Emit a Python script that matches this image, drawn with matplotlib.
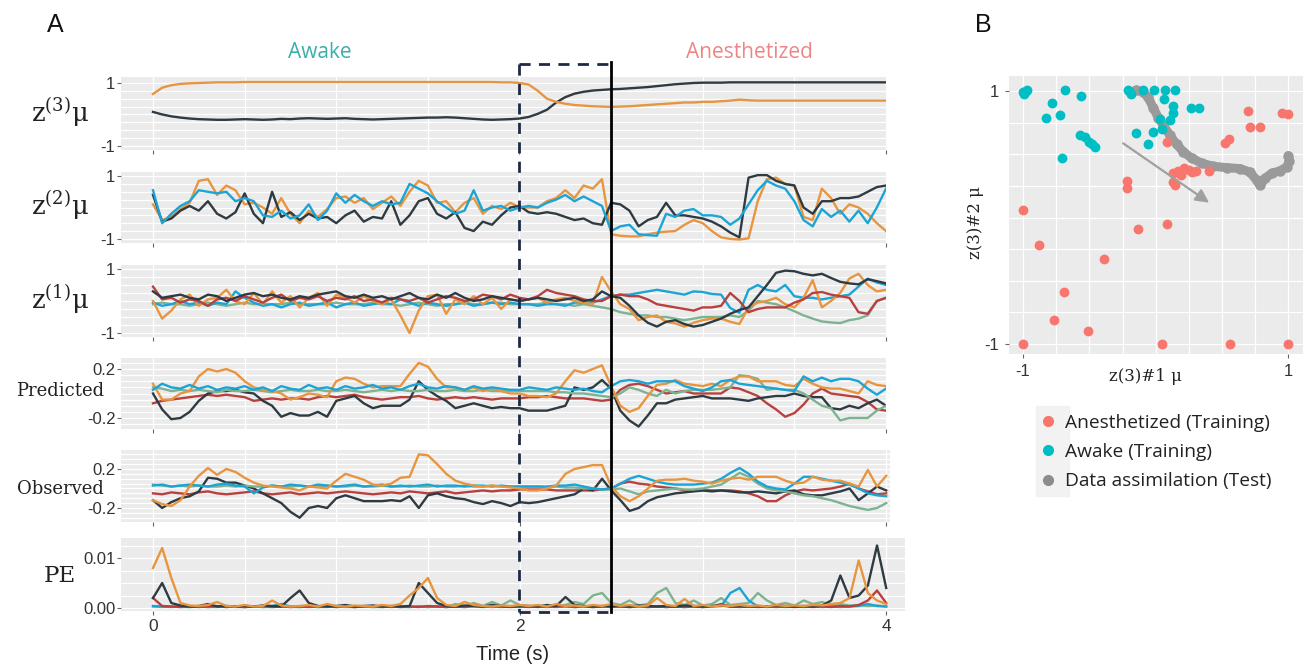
import numpy as np
import matplotlib.pyplot as plt
import matplotlib.transforms as mtransforms
from matplotlib.lines import Line2D
from matplotlib.patches import Rectangle

plt.rcParams['font.family'] = ['Liberation Sans', 'DejaVu Sans']
plt.rcParams['mathtext.fontset'] = 'dejavuserif'

# ---------------- data: panel A (time series, sampled every 0.05 s) ----------------
time_s = np.linspace(0, 4, 81)
window_start, window_end = 2.0, 2.5   # data assimilation window

z3_orange = [0.65, 0.85, 0.93, 0.97, 0.99, 1.0, 1.01, 1.02, 1.02, 1.02,
             1.03, 1.03, 1.03, 1.03, 1.03, 1.03, 1.03, 1.03, 1.03, 1.03,
             1.03, 1.03, 1.03, 1.03, 1.03, 1.03, 1.03, 1.03, 1.03, 1.03,
             1.03, 1.03, 1.03, 1.03, 1.03, 1.03, 1.03, 1.03, 1.02, 1.02, 1.0] + \
            [0.95, 0.75, 0.5, 0.4, 0.34, 0.3, 0.28, 0.26, 0.25,
             0.24, 0.25, 0.26, 0.28, 0.3, 0.32, 0.34, 0.36, 0.38, 0.38,
             0.4, 0.4, 0.42, 0.44, 0.47, 0.45, 0.44, 0.44, 0.44, 0.44,
             0.44, 0.44, 0.44, 0.44, 0.44, 0.44, 0.44, 0.44, 0.44, 0.44, 0.44]
z3_dark = [0.08, 0.0, -0.06, -0.1, -0.13, -0.15, -0.16, -0.17, -0.17, -0.16,
           -0.15, -0.16, -0.17, -0.16, -0.14, -0.15, -0.13, -0.12, -0.13, -0.14,
           -0.13, -0.12, -0.14, -0.15, -0.16, -0.15, -0.14, -0.13, -0.12, -0.11,
           -0.1, -0.1, -0.09, -0.1, -0.12, -0.14, -0.16, -0.17, -0.16, -0.15, -0.13] + \
          [-0.08, 0.02, 0.15, 0.38, 0.55, 0.66, 0.72, 0.76, 0.78,
           0.8, 0.81, 0.83, 0.85, 0.87, 0.9, 0.93, 0.96, 0.98, 1.0,
           1.01, 1.01, 1.01, 1.02, 1.02, 1.02, 1.02, 1.02, 1.02, 1.02,
           1.02, 1.02, 1.02, 1.02, 1.02, 1.02, 1.02, 1.02, 1.02, 1.02, 1.02]

z2_orange = [0.1, -0.4, -0.3, -0.05, 0.15, 0.85, 0.9, 0.4, 0.7, 0.55,
             0.1, 0.15, 0.0, -0.2, 0.3, -0.2, -0.5, -0.1, -0.3, -0.05,
             0.3, 0.35, 0.15, 0.3, -0.05, 0.15, 0.35, 0.05, 0.5, 0.85,
             0.7, 0.15, 0.2, -0.15, 0.15, 0.3, -0.2, 0.05, -0.05, 0.15, 0.0] + \
            [0.0, 0.0, 0.2, 0.3, 0.55, 0.3, 0.7, 0.6, 0.9,
             -0.85, -0.9, -0.92, -0.92, -0.85, -0.8, -0.77, -0.75, -0.55, -0.4,
             -0.5, -0.75, -0.95, -1.0, -1.02, -0.98, 0.2, 0.9, 0.95, 0.75,
             0.7, -0.3, -0.4, 0.6, 0.3, -0.2, 0.1, 0.0, -0.2, -0.5, -0.75]
z2_dark = [0.4, -0.45, -0.35, -0.1, 0.05, -0.1, 0.2, -0.2, -0.35, -0.15,
           0.45, -0.2, -0.5, 0.5, -0.3, -0.15, -0.4, -0.2, -0.35, -0.3,
           -0.5, -0.25, -0.1, -0.45, -0.3, -0.35, 0.2, -0.55, -0.25, 0.2,
           0.3, -0.2, -0.35, -0.15, -0.65, -0.75, -0.45, -0.55, -0.25, 0.0, 0.05] + \
          [-0.15, -0.2, -0.15, -0.2, -0.3, -0.4, -0.35, -0.5, -0.55,
           0.15, 0.1, -0.1, -0.6, -0.4, -0.3, 0.15, -0.25, -0.25, -0.3,
           -0.35, -0.45, -0.6, -0.8, -0.95, 0.95, 1.03, 1.03, 0.85, 0.75,
           0.7, 0.0, -0.2, 0.2, 0.2, 0.3, 0.3, 0.35, 0.5, 0.65, 0.7]
z2_blue = [0.55, -0.5, -0.2, 0.05, 0.2, 0.55, 0.5, 0.45, 0.5, 0.2,
           0.3, 0.2, -0.25, -0.3, -0.1, -0.35, -0.25, 0.1, -0.4, -0.1,
           0.45, 0.15, 0.4, 0.2, 0.05, 0.2, 0.1, 0.15, 0.75, 0.6,
           0.45, 0.2, 0.0, -0.2, -0.1, 0.55, -0.1, 0.0, 0.05, -0.1, 0.0] + \
          [0.05, 0.0, 0.15, 0.25, 0.4, 0.2, 0.35, 0.2, 0.05,
           -0.75, -0.6, -0.55, -0.85, -0.88, -0.9, -0.2, -0.3, -0.1, -0.05,
           -0.25, -0.25, -0.3, -0.55, -0.35, 0.1, 0.55, 0.85, 0.7, 0.6,
           0.2, -0.4, -0.6, -0.05, -0.3, -0.1, -0.45, -0.1, -0.5, 0.0, 0.6]

z1_dark = [0.3, 0.1, 0.15, 0.2, 0.1, 0.05, 0.2, 0.15, 0.0, 0.1,
           0.2, 0.25, 0.15, 0.2, 0.1, 0.05, 0.15, 0.1, 0.2, 0.25,
           0.3, 0.15, 0.1, 0.2, 0.1, 0.15, 0.05, 0.15, 0.25, 0.1,
           0.05, 0.2, 0.1, 0.25, 0.1, 0.0, 0.05, 0.15, 0.1, 0.05, 0.0] + \
          [0.05, 0.1, 0.05, 0.0, 0.05, 0.1, 0.0, 0.05, 0.3,
           0.15, 0.1, -0.15, -0.45, -0.68, -0.8, -0.65, -0.6, -0.72, -0.8,
           -0.75, -0.65, -0.55, -0.4, -0.28, -0.2, 0.15, 0.5, 0.88, 0.95,
           0.93, 0.85, 0.8, 0.85, 0.72, 0.6, 0.55, 0.52, 0.68, 0.62, 0.55]
z1_red = [0.45, 0.05, 0.1, -0.05, 0.05, 0.0, -0.15, 0.05, 0.1, 0.0,
          0.15, 0.05, -0.05, 0.1, 0.2, 0.0, 0.1, 0.05, 0.15, 0.0,
          0.1, 0.05, 0.15, 0.0, 0.05, -0.05, 0.1, 0.05, 0.0, 0.1,
          -0.05, 0.05, 0.15, 0.1, 0.0, 0.05, 0.2, 0.15, 0.05, 0.2, 0.1] + \
         [0.05, 0.15, 0.35, 0.25, 0.2, 0.15, 0.05, 0.0, 0.0,
          0.15, 0.2, 0.15, 0.15, 0.05, -0.1, -0.15, -0.2, -0.25, -0.3,
          -0.2, -0.2, -0.15, 0.25, 0.0, -0.35, -0.25, -0.2, -0.2, -0.2,
          -0.05, 0.05, 0.25, 0.28, 0.2, 0.15, 0.1, -0.35, -0.4, 0.0, 0.1]
z1_orange = [0.0, -0.55, -0.3, 0.05, 0.2, -0.15, 0.05, 0.1, 0.35, 0.0,
             -0.1, 0.25, -0.1, 0.3, -0.05, 0.15, -0.2, 0.1, 0.25, -0.15,
             0.2, 0.1, -0.05, 0.15, 0.0, -0.1, 0.05, -0.45, -1.0, -0.3,
             0.15, 0.2, -0.4, 0.05, -0.1, 0.15, -0.1, 0.1, -0.25, 0.05, 0.0] + \
            [0.05, 0.1, -0.05, 0.05, 0.1, 0.0, -0.05, -0.1, 0.75,
             0.3, -0.1, -0.25, -0.6, -0.5, -0.45, -0.65, -0.7, -0.8, -0.68,
             -0.6, -0.55, -0.55, -0.65, -0.72, -0.2, -0.05, 0.0, 0.1, -0.1,
             -0.2, 0.1, 0.65, -0.2, 0.0, 0.25, 0.7, 0.85, 0.5, 0.3, 0.35]
z1_blue = [-0.05, -0.15, -0.1, 0.0, -0.1, -0.05, -0.15, -0.05, -0.1, 0.3,
           0.1, -0.05, -0.15, -0.1, -0.2, -0.1, -0.05, -0.15, -0.1, -0.05,
           -0.2, -0.1, -0.05, -0.15, -0.1, -0.05, -0.1, 0.05, -0.05, -0.15,
           -0.05, -0.1, -0.15, -0.1, -0.05, -0.15, -0.1, -0.05, -0.1, -0.05, -0.1] + \
          [-0.1, -0.15, -0.1, -0.1, -0.15, -0.05, -0.05, -0.05, 0.05,
           0.15, 0.2, 0.2, 0.25, 0.3, 0.35, 0.3, 0.25, 0.2, 0.3,
           0.28, 0.22, 0.2, -0.22, -0.37, 0.35, 0.5, 0.35, 0.3, 0.5,
           0.15, 0.1, 0.1, 0.05, 0.1, 0.15, 0.2, 0.45, 0.7, 0.58, 0.5]
z1_green = [-0.1, -0.05, -0.1, -0.1, -0.15, -0.1, -0.05, -0.1, -0.15, -0.1,
            -0.05, -0.1, -0.1, -0.1, -0.1, -0.05, -0.1, -0.1, -0.1, -0.1,
            -0.05, -0.1, -0.1, -0.1, -0.05, -0.1, -0.1, -0.15, -0.1, -0.05,
            -0.1, -0.15, -0.1, -0.1, -0.05, -0.1, -0.1, -0.05, -0.05, -0.1, -0.1] + \
           [-0.1, -0.1, -0.05, -0.1, -0.1, -0.15, -0.1, -0.15, -0.2,
            -0.25, -0.35, -0.4, -0.45, -0.45, -0.5, -0.5, -0.55, -0.6, -0.55,
            -0.5, -0.5, -0.5, -0.45, -0.5, -0.3, 0.0, -0.05, -0.1, -0.2,
            -0.32, -0.45, -0.55, -0.64, -0.67, -0.69, -0.6, -0.55, -0.45, 0.0, 0.1]

pred_orange = [0.08, -0.05, -0.05, 0.0, 0.02, 0.14, 0.2, 0.18, 0.2, 0.17,
               0.1, 0.05, 0.03, 0.02, 0.0, -0.05, -0.03, 0.0, -0.01, -0.03,
               0.1, 0.13, 0.12, 0.08, 0.05, 0.06, 0.06, 0.06, 0.16, 0.25,
               0.22, 0.12, 0.05, 0.05, 0.03, 0.05, 0.02, 0.04, 0.02, 0.0, 0.0] + \
              [-0.02, -0.02, -0.03, 0.0, 0.1, 0.19, 0.17, 0.2, 0.23,
               0.06, -0.1, -0.15, -0.12, -0.02, 0.07, 0.08, 0.11, 0.08, 0.07,
               0.06, 0.08, 0.06, 0.11, 0.14, 0.14, 0.1, 0.1, 0.1, 0.07,
               0.06, 0.12, 0.08, 0.05, 0.04, 0.04, 0.02, 0.0, 0.1, 0.07, 0.06]
pred_dark = [0.0, -0.13, -0.21, -0.2, -0.15, -0.06, 0.0, 0.02, 0.02, 0.03,
             0.01, 0.0, -0.06, -0.1, -0.19, -0.16, -0.18, -0.18, -0.15, -0.19,
             -0.06, -0.04, -0.02, -0.08, -0.12, -0.1, -0.1, -0.1, -0.05, 0.1,
             0.03, -0.02, -0.06, -0.12, -0.1, -0.08, -0.1, -0.12, -0.11, -0.12, -0.12] + \
            [-0.14, -0.14, -0.14, -0.12, -0.1, 0.05, 0.03, 0.05, 0.11,
             0.04, -0.14, -0.22, -0.27, -0.18, -0.08, -0.08, -0.05, -0.04, -0.03,
             -0.02, -0.04, -0.04, -0.04, -0.05, -0.06, -0.04, -0.03, -0.02, -0.02,
             0.0, -0.02, -0.03, -0.03, -0.12, -0.13, -0.1, -0.12, -0.08, -0.05, -0.1]
pred_blue = [0.03, 0.08, 0.05, 0.04, 0.07, 0.04, 0.06, 0.03, 0.05, 0.04,
             0.06, 0.03, 0.05, 0.02, 0.06, 0.04, 0.03, 0.07, 0.04, 0.05,
             0.03, 0.06, 0.04, 0.05, 0.07, 0.04, 0.05, 0.03, 0.06, 0.08,
             0.05, 0.04, 0.06, 0.05, 0.03, 0.06, 0.04, 0.05, 0.04, 0.03, 0.03] + \
            [0.05, 0.04, 0.03, 0.05, 0.04, 0.03, 0.04, 0.02, 0.01,
             0.06, 0.1, 0.11, 0.1, 0.08, 0.1, 0.1, 0.1, 0.06, 0.04,
             0.02, 0.05, 0.1, 0.11, 0.08, 0.07, 0.06, 0.05, 0.04, 0.03,
             0.02, 0.14, 0.1, 0.13, 0.1, 0.12, 0.12, 0.1, 0.04, -0.01, 0.04]
pred_green = [0.05, 0.04, 0.02, 0.03, 0.02, 0.03, 0.02, 0.01, 0.03, 0.02,
              0.02, 0.03, 0.02, 0.01, 0.02, 0.03, 0.02, 0.02, 0.03, 0.02,
              0.02, 0.03, 0.02, 0.01, 0.02, 0.03, 0.02, 0.03, 0.02, 0.02,
              0.03, 0.02, 0.02, 0.03, 0.02, 0.02, 0.03, 0.02, 0.02, 0.02, 0.02] + \
             [0.02, 0.02, 0.02, 0.01, 0.01, 0.0, 0.0, -0.01, -0.02,
              -0.03, 0.0, 0.05, 0.03, 0.0, -0.02, 0.03, 0.0, 0.02, 0.03,
              0.03, 0.03, 0.04, 0.05, 0.15, 0.14, 0.12, 0.03, 0.04, 0.03,
              0.03, 0.0, -0.05, -0.1, -0.12, -0.22, -0.2, -0.2, -0.2, -0.14, -0.1]
pred_red = [-0.08, -0.06, -0.05, -0.04, -0.03, -0.02, -0.01, -0.02, -0.01, -0.02,
            -0.03, -0.06, -0.05, -0.04, -0.05, -0.04, -0.04, -0.05, -0.03, -0.02,
            -0.03, -0.02, -0.01, -0.03, -0.04, -0.05, -0.04, -0.03, -0.03, -0.02,
            -0.04, -0.05, -0.04, -0.03, -0.04, -0.03, -0.04, -0.05, -0.04, -0.04, -0.04] + \
           [-0.03, -0.03, -0.02, -0.03, -0.04, -0.04, -0.04, -0.05, -0.06,
            -0.05, 0.03, 0.07, 0.08, 0.06, 0.03, 0.0, 0.01, 0.02, 0.0,
            0.0, 0.0, 0.0, 0.05, 0.04, 0.01, -0.02, -0.08, -0.13, -0.19,
            -0.16, -0.09, 0.0, 0.04, 0.0, -0.01, -0.02, -0.03, -0.07, -0.13, -0.14]

obs_orange = [-0.12, -0.16, -0.18, -0.12, 0.02, 0.13, 0.21, 0.14, 0.2, 0.17,
              0.11, 0.06, 0.03, 0.02, 0.01, 0.0, -0.02, 0.02, 0.01, 0.0,
              0.08, 0.15, 0.12, 0.09, 0.04, 0.03, 0.05, 0.11, 0.12, 0.35,
              0.34, 0.25, 0.15, 0.08, 0.05, 0.03, 0.02, 0.03, 0.02, 0.01, 0.0] + \
             [-0.02, -0.02, 0.0, 0.03, 0.15, 0.2, 0.22, 0.24, 0.24,
              0.02, -0.08, -0.13, -0.08, 0.0, 0.08, 0.09, 0.09, 0.1, 0.08,
              0.07, 0.05, 0.08, 0.1, 0.11, 0.09, 0.12, 0.12, 0.12, 0.08,
              0.05, 0.06, 0.12, 0.09, 0.08, 0.08, 0.05, 0.02, 0.19, 0.02, 0.13]
obs_dark = [-0.12, -0.2, -0.14, -0.1, -0.08, -0.03, 0.11, 0.1, 0.06, 0.06,
            0.03, 0.0, -0.05, -0.1, -0.15, -0.24, -0.3, -0.2, -0.18, -0.2,
            -0.1, -0.07, -0.1, -0.13, -0.13, -0.13, -0.12, -0.13, -0.08, -0.2,
            -0.07, -0.05, -0.08, -0.1, -0.11, -0.14, -0.16, -0.13, -0.15, -0.18, -0.14] + \
           [-0.15, -0.14, -0.12, -0.1, -0.08, -0.06, 0.0, -0.02, 0.1,
            -0.02, -0.12, -0.23, -0.2, -0.13, -0.09, -0.07, -0.05, -0.04, -0.03,
            -0.02, -0.03, -0.02, -0.03, -0.04, -0.04, -0.03, -0.04, -0.05, -0.03,
            -0.02, -0.06, -0.07, -0.07, -0.05, -0.03, 0.0, -0.12, -0.05, 0.02, -0.02]
obs_blue = [0.03, 0.04, 0.02, 0.03, 0.04, 0.03, 0.02, 0.04, 0.05, 0.03,
            0.02, -0.05, 0.01, 0.03, 0.02, 0.04, 0.03, 0.02, 0.04, 0.03,
            0.02, 0.03, 0.04, 0.02, 0.03, 0.04, 0.02, 0.03, 0.02, 0.03,
            0.04, 0.02, 0.03, 0.03, 0.02, 0.03, 0.03, 0.02, 0.03, 0.02, 0.02] + \
           [0.02, 0.02, 0.02, 0.03, 0.03, 0.04, 0.02, 0.0, -0.01,
            0.0, 0.05, 0.1, 0.13, 0.1, 0.07, 0.05, 0.04, 0.04, 0.04,
            0.05, 0.06, 0.1, 0.16, 0.21, 0.15, 0.07, 0.02, 0.0, -0.01,
            0.05, 0.12, 0.12, 0.1, 0.08, 0.06, 0.04, 0.0, -0.05, -0.07, -0.08]
obs_green = [0.04, 0.03, 0.02, 0.03, 0.02, 0.03, 0.02, 0.02, 0.03, 0.02,
             0.03, 0.02, 0.02, 0.03, 0.02, 0.02, 0.03, 0.02, 0.02, 0.03,
             0.02, 0.02, 0.03, 0.02, 0.02, 0.03, 0.02, 0.02, 0.03, 0.02,
             0.02, 0.03, 0.02, 0.02, 0.03, 0.02, 0.02, 0.03, 0.02, 0.02, 0.02] + \
            [0.02, 0.02, 0.01, 0.02, 0.01, 0.01, 0.0, 0.0, -0.01,
             -0.01, 0.0, -0.03, -0.06, -0.03, -0.02, -0.01, 0.0, -0.01, -0.01,
             0.0, 0.02, 0.04, 0.1, 0.16, 0.12, 0.05, 0.0, -0.02, -0.03,
             -0.05, -0.07, -0.08, -0.1, -0.12, -0.15, -0.18, -0.2, -0.22, -0.2, -0.15]
obs_red = [-0.05, -0.06, -0.04, -0.05, -0.06, -0.04, -0.03, -0.05, -0.06, -0.05,
           -0.04, -0.03, -0.05, -0.06, -0.05, -0.04, -0.06, -0.05, -0.04, -0.05,
           -0.04, -0.03, -0.04, -0.05, -0.06, -0.05, -0.04, -0.05, -0.03, -0.04,
           -0.05, -0.04, -0.03, -0.05, -0.04, -0.03, -0.02, -0.03, -0.02, -0.02, -0.01] + \
          [-0.01, -0.01, -0.01, -0.02, -0.02, -0.02, -0.02, -0.02, -0.01,
           0.0, 0.05, 0.07, 0.05, 0.04, 0.02, 0.01, 0.0, -0.02, -0.02,
           -0.02, -0.02, -0.02, -0.02, -0.03, -0.05, -0.08, -0.13, -0.13, -0.07,
           -0.03, -0.01, -0.02, -0.01, 0.0, 0.02, 0.05, 0.0, -0.03, -0.06, -0.05]

pe_orange = [0.008, 0.012, 0.006, 0.001, 0.0005, 0.0004, 0.0006, 0.0012, 0.0004, 0.0003,
             0.0006, 0.0003, 0.0004, 0.0015, 0.0005, 0.0003, 0.0004, 0.0006, 0.0003, 0.0008,
             0.0004, 0.0003, 0.0005, 0.0004, 0.0003, 0.0006, 0.0004, 0.0008, 0.0025, 0.004,
             0.006, 0.002, 0.0006, 0.0004, 0.0012, 0.0006, 0.0004, 0.0003, 0.0005, 0.0004, 0.0006] + \
            [0.0004, 0.0006, 0.0003, 0.0008, 0.0004, 0.0005, 0.0003, 0.0006, 0.0004,
             0.0008, 0.0004, 0.0006, 0.0003, 0.0005, 0.002, 0.0006, 0.0004, 0.0018, 0.0004,
             0.0006, 0.0003, 0.0005, 0.0004, 0.0006, 0.0004, 0.0005, 0.0003, 0.0006, 0.0004,
             0.0005, 0.0004, 0.0006, 0.0005, 0.0008, 0.001, 0.002, 0.0095, 0.003, 0.0015, 0.0008]
pe_dark = [0.002, 0.005, 0.001, 0.0005, 0.0003, 0.0004, 0.0008, 0.0003, 0.0004, 0.0003,
           0.0004, 0.0003, 0.0005, 0.0004, 0.0003, 0.002, 0.0035, 0.001, 0.0004, 0.0003,
           0.0004, 0.0006, 0.0003, 0.0004, 0.0005, 0.0003, 0.0004, 0.0003, 0.0004, 0.005,
           0.003, 0.001, 0.0004, 0.0003, 0.0005, 0.0004, 0.0003, 0.0006, 0.0004, 0.0003, 0.0004] + \
          [0.0004, 0.0003, 0.0006, 0.0004, 0.0022, 0.0006, 0.0004, 0.0003, 0.0004,
           0.0003, 0.0004, 0.0003, 0.0005, 0.0004, 0.0003, 0.0004, 0.0003, 0.0005, 0.0004,
           0.0003, 0.0004, 0.0005, 0.0003, 0.0004, 0.0003, 0.0004, 0.0003, 0.0005, 0.0004,
           0.0003, 0.0004, 0.0003, 0.0005, 0.0015, 0.0065, 0.002, 0.0025, 0.0045, 0.0125, 0.004]
pe_green = [0.0003, 0.0002, 0.0003, 0.0002, 0.0002, 0.0003, 0.0002, 0.0002, 0.0003, 0.0002,
            0.0002, 0.0003, 0.0002, 0.0002, 0.0003, 0.0002, 0.0002, 0.0003, 0.0002, 0.0002,
            0.0003, 0.0002, 0.0002, 0.0003, 0.0002, 0.0002, 0.0003, 0.0002, 0.0002, 0.0003,
            0.0002, 0.0003, 0.0002, 0.0008, 0.0003, 0.001, 0.0004, 0.0012, 0.0005, 0.0015, 0.0006] + \
           [0.0004, 0.0003, 0.0005, 0.0004, 0.0006, 0.0012, 0.0008, 0.0025, 0.003,
            0.001, 0.0006, 0.0015, 0.0005, 0.0008, 0.003, 0.004, 0.001, 0.0006, 0.0015,
            0.0005, 0.0008, 0.002, 0.0006, 0.0008, 0.001, 0.003, 0.0015, 0.0006, 0.001,
            0.0005, 0.0015, 0.0008, 0.0012, 0.0006, 0.0008, 0.0005, 0.0006, 0.0004, 0.0005, 0.0003]
pe_blue = [0.0004, 0.0003, 0.0002, 0.0003, 0.0002, 0.0003, 0.0002, 0.0003, 0.0002, 0.0003,
           0.0002, 0.0003, 0.0002, 0.0004, 0.0008, 0.0003, 0.0002, 0.0003, 0.0002, 0.0003,
           0.0002, 0.0003, 0.0002, 0.0003, 0.0002, 0.0003, 0.0002, 0.0003, 0.0002, 0.0003,
           0.0002, 0.0003, 0.0002, 0.0003, 0.0002, 0.0003, 0.0002, 0.0003, 0.0002, 0.0003, 0.0002] + \
          [0.0003, 0.0002, 0.0003, 0.0002, 0.0003, 0.0002, 0.0003, 0.0002, 0.0003,
           0.0002, 0.0003, 0.0002, 0.0003, 0.0002, 0.0003, 0.0002, 0.0003, 0.0002, 0.0003,
           0.0002, 0.0003, 0.0004, 0.003, 0.004, 0.0015, 0.0003, 0.0002, 0.0003, 0.0002,
           0.0003, 0.0002, 0.0003, 0.0002, 0.0003, 0.0002, 0.0003, 0.0004, 0.0008, 0.0004, 0.0003]
pe_red = [0.002, 0.0004, 0.0003, 0.0002, 0.0003, 0.0002, 0.0003, 0.0004, 0.0002, 0.0003,
          0.0002, 0.0003, 0.0004, 0.0002, 0.0003, 0.0002, 0.0003, 0.0002, 0.0003, 0.0004,
          0.0002, 0.0003, 0.0002, 0.0003, 0.0004, 0.0002, 0.0003, 0.0002, 0.0003, 0.0002,
          0.0004, 0.0003, 0.0002, 0.0003, 0.0002, 0.0006, 0.0003, 0.0002, 0.0003, 0.0002, 0.0003] + \
         [0.0002, 0.0003, 0.0002, 0.0003, 0.0004, 0.0002, 0.0003, 0.0002, 0.0003,
          0.0006, 0.0003, 0.0002, 0.0003, 0.0002, 0.0003, 0.0002, 0.0003, 0.0002, 0.0003,
          0.0002, 0.0003, 0.0008, 0.0003, 0.0002, 0.0003, 0.0002, 0.0003, 0.0002, 0.0003,
          0.0002, 0.0003, 0.0002, 0.0003, 0.0002, 0.0004, 0.0003, 0.0006, 0.0015, 0.0035, 0.001]

# ---------------- data: panel B (z(3) latent space) ----------------
awake_x = [-1.0, -0.98, -0.97, -0.99, -0.686, -0.56, -0.78, -0.83, -0.72,
           -0.57, -0.53, -0.5, -0.46, -0.48, -0.71, -0.21, -0.19, -0.2,
           -0.094, -0.011, 0.069, 0.147, 0.062, 0.13, 0.13, 0.107, 0.031,
           0.263, 0.323, -0.145, -0.019, 0.044, -0.057]
awake_y = [0.99, 1.0, 1.01, 0.98, 1.01, 0.96, 0.91, 0.79, 0.81,
           0.65, 0.64, 0.6, 0.56, 0.58, 0.47, 1.01, 0.98, 1.0,
           1.01, 1.01, 1.01, 1.01, 0.94, 0.88, 0.83, 0.77, 0.78,
           0.87, 0.87, 0.67, 0.68, 0.70, 0.58]
anesth_x = [0.698, 0.95, 1.0, 0.71, 0.786, 0.52, 0.555, 0.087,
            0.13, 0.17, 0.21, 0.25, 0.27, 0.30, 0.40, 0.19, 0.13, 0.145,
            -0.22, -0.22, -1.0, -0.88, -0.13, 0.087, -0.39, -0.69, -0.77,
            -0.51, -1.0, 0.05, 0.56, 1.0]
anesth_y = [0.84, 0.83, 0.82, 0.72, 0.72, 0.59, 0.62, 0.60,
            0.35, 0.37, 0.39, 0.38, 0.36, 0.37, 0.37, 0.34, 0.28, 0.255,
            0.29, 0.23, 0.06, -0.22, -0.09, -0.05, -0.33, -0.59, -0.81,
            -0.90, -1.0, -1.0, -1.0, -1.0]
assim_x = [-0.145, -0.094, -0.057, -0.019, 0.019, 0.057, 0.107, 0.157, 0.208, 0.27,
           0.346, 0.434, 0.535, 0.635, 0.71, 0.76, 0.786, 0.824, 0.874, 0.937,
           0.987, 1.008, 1.0]
assim_y = [1.01, 0.99, 0.95, 0.87, 0.79, 0.73, 0.65, 0.58, 0.52, 0.47,
           0.43, 0.405, 0.395, 0.387, 0.36, 0.295, 0.255, 0.31, 0.35, 0.37,
           0.40, 0.45, 0.49]
arrow_from = (-0.263, 0.60)
arrow_to = (0.42, 0.105)

# ---------------- style ----------------
ORANGE, DARK, BLUE = '#E8953F', '#2E3B42', '#1BA4D6'
RED, GREEN = '#B8413F', '#7DB391'
W, H = 1304, 664
PX_PER_S, T0_PX = 183.3, 153

fig = plt.figure(figsize=(W / 100, H / 100), dpi=100)
fig.patch.set_facecolor('white')


def px_axes(left, top, right, bottom):
    return fig.add_axes([left / W, 1 - bottom / H, (right - left) / W, (bottom - top) / H])


def gg_style(ax, ylim, yticks, ylabels, ygrid, show_x=False):
    ax.set_facecolor('#EBEBEB')
    for s in ax.spines.values():
        s.set_visible(False)
    ax.set_ylim(*ylim)
    ax.set_yticks(yticks)
    ax.set_yticklabels(ylabels)
    ax.set_yticks(ygrid, minor=True)
    ax.set_xticks([0, 2, 4])
    ax.set_xticks(np.arange(0, 4.01, 0.5), minor=True)
    ax.grid(which='both', color='white', lw=0.9)
    ax.set_axisbelow(True)
    ax.tick_params(which='minor', length=0)
    ax.tick_params(which='major', length=3, color='#666666', labelsize=12,
                   labelcolor='#333333', pad=1)
    if not show_x:
        ax.set_xticklabels([])
    else:
        ax.tick_params(axis='x', labelsize=12.5, pad=3)


panels = [
    # top, bottom, right, ylim, yticks, labels, grid, series, label, label_y, label size
    (77, 150, 886, (-1.13, 1.19), [-1, 1], ['-1', '1'], np.arange(-1, 1.01, 0.25),
     [(z3_dark, DARK), (z3_orange, ORANGE)], r'z$^{(3)}$μ', 112, 18.5),
    (172, 243, 886, (-1.13, 1.13), [-1, 1], ['-1', '1'], np.arange(-1, 1.01, 0.25),
     [(z2_orange, ORANGE), (z2_dark, DARK), (z2_blue, BLUE)], r'z$^{(2)}$μ', 205, 18.5),
    (265, 337, 886, (-1.125, 1.125), [-1, 1], ['-1', '1'], np.arange(-1, 1.01, 0.25),
     [(z1_green, GREEN), (z1_blue, BLUE), (z1_orange, ORANGE), (z1_red, RED), (z1_dark, DARK)],
     r'z$^{(1)}$μ', 299, 18.5),
    (358, 429, 886, (-0.29, 0.29), [-0.2, 0.2], ['-0.2', '0.2'], np.arange(-0.25, 0.26, 0.05),
     [(pred_red, RED), (pred_dark, DARK), (pred_green, GREEN), (pred_orange, ORANGE), (pred_blue, BLUE)],
     'Predicted', 391, 13),
    (450, 522, 890, (-0.344, 0.395), [-0.2, 0.2], ['-0.2', '0.2'], np.arange(-0.3, 0.36, 0.05),
     [(obs_red, RED), (obs_dark, DARK), (obs_green, GREEN), (obs_blue, BLUE), (obs_orange, ORANGE)],
     'Observed', 489, 13),
    (538, 611, 905, (-0.0006, 0.014), [0, 0.01], ['0.00', '0.01'], np.arange(0, 0.0126, 0.0025),
     [(pe_green, GREEN), (pe_blue, BLUE), (pe_red, RED), (pe_dark, DARK), (pe_orange, ORANGE)],
     'PE', 576, 16.5),
]

axes_a = []
for i, (top, bottom, right, ylim, yt, yl, yg, series, label, label_y, lsize) in enumerate(panels):
    left = 121
    ax = px_axes(left, top, right, bottom)
    ax.set_xlim((left - T0_PX) / PX_PER_S, (right - T0_PX) / PX_PER_S)
    gg_style(ax, ylim, yt, yl, yg, show_x=(i == len(panels) - 1))
    for vals, col in series:
        ax.plot(time_s, vals, color=col, lw=1.7, solid_joinstyle='round')
    fig.text(60 / W, 1 - label_y / H, label, ha='center', va='center',
             family='DejaVu Serif', fontsize=lsize, color='#222222')
    axes_a.append(ax)

axes_a[-1].set_xlabel('Time (s)', fontsize=14.5, color='#222222', labelpad=8)

# data-assimilation window across all panels
trans = mtransforms.blended_transform_factory(axes_a[0].transData, fig.transFigure)
y_top, y_bot = 1 - 64 / H, 1 - 612 / H
dash = dict(color='#1E2A45', lw=2, linestyle=(0, (4, 3)), transform=trans)
fig.add_artist(Line2D([window_start, window_start], [y_top, y_bot], **dash))
fig.add_artist(Line2D([window_start, window_end], [y_top, y_top], **dash))
fig.add_artist(Line2D([window_start, window_end], [y_bot, y_bot], **dash))
fig.add_artist(Line2D([window_end, window_end], [1 - 62 / H, y_bot], color='black', lw=2,
                      transform=trans))

fig.text(320 / W, 1 - 53 / H, 'Awake', ha='center', va='center', family='Open Sans',
         fontsize=15, color='#3AAFA9')
fig.text(749 / W, 1 - 52 / H, 'Anesthetized', ha='center', va='center', family='Open Sans',
         fontsize=15, color='#EE8585')
fig.text(55 / W, 1 - 25 / H, 'A', ha='center', va='center', fontsize=18, color='#111111')
fig.text(983 / W, 1 - 25 / H, 'B', ha='center', va='center', fontsize=18, color='#111111')

# ---------------- panel B ----------------
axb = px_axes(1009, 76, 1303, 354)
axb.set_facecolor('#EBEBEB')
for s in axb.spines.values():
    s.set_visible(False)
axb.set_xlim(-1.106, 1.11)
axb.set_ylim(-1.08, 1.12)
axb.set_xticks([-1, 1])
axb.set_xticklabels(['-1', '1'])
axb.set_yticks([-1, 1])
axb.set_yticklabels(['-1', '1'])
axb.set_xticks(np.arange(-1, 1.01, 0.25), minor=True)
axb.set_yticks(np.arange(-1, 1.01, 0.25), minor=True)
axb.grid(which='both', color='white', lw=0.9)
axb.set_axisbelow(True)
axb.tick_params(which='minor', length=0)
axb.tick_params(which='major', length=3, color='#666666', labelsize=12,
                labelcolor='#333333', pad=4)

axb.plot(assim_x, assim_y, color='#9A9A9A', lw=6.5, solid_capstyle='round',
         solid_joinstyle='round', marker='o', ms=6.5, zorder=2)
axb.scatter(anesth_x, anesth_y, s=50, color='#F8766D', zorder=3, linewidths=0)
axb.scatter(awake_x, awake_y, s=50, color='#00BFC4', zorder=3, linewidths=0)
axb.annotate('', xy=arrow_to, xytext=arrow_from,
             arrowprops=dict(arrowstyle='-|>', color='#A0A0A0', lw=1.6,
                             mutation_scale=20), zorder=4)

fig.text(1145 / W, 1 - 376 / H, 'z(3)#1 μ', ha='center', va='center',
         family='DejaVu Serif', fontsize=12, color='#222222')
fig.text(975 / W, 1 - 223 / H, 'z(3)#2 μ', ha='center', va='center', rotation=90,
         family='DejaVu Serif', fontsize=12, color='#222222')

# legend
fig.patches.append(Rectangle((1036 / W, 1 - 496 / H), 33 / W, 90 / H,
                             transform=fig.transFigure, color='#F2F2F2', zorder=0))
handles = [Line2D([], [], ls='', marker='o', ms=7, color=c)
           for c in ('#F8766D', '#00BFC4', '#8C8C8C')]
fig.legend(handles, ['Anesthetized (Training)', 'Awake (Training)', 'Data assimilation (Test)'],
           loc='upper left', bbox_to_anchor=(1041 / W, 1 - 414 / H), frameon=False,
           prop=dict(family='Open Sans', size=13.8), handlelength=0.7, handletextpad=0.55,
           labelspacing=0.58, borderpad=0, borderaxespad=0, labelcolor='#222222')

fig.savefig('out.png', dpi=100, facecolor='white')
